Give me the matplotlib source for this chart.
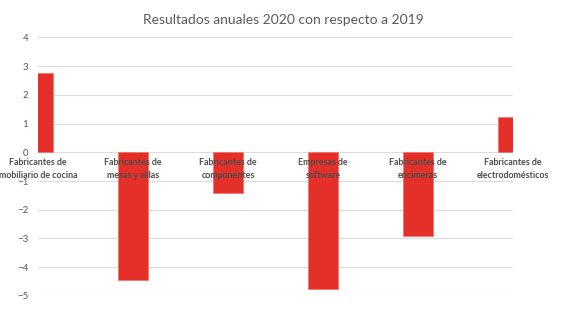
import numpy as np
import matplotlib.pyplot as plt

categorias = ["Fabricantes de\nmobiliario de cocina",
              "Fabricantes de\nmesas y sillas",
              "Fabricantes de\ncomponentes",
              "Empresas de\nsoftware",
              "Fabricantes de\nencimeras",
              "Fabricantes de\nelectrodomésticos"]
valores = [2.75, -4.45, -1.40, -4.77, -2.92, 1.24]
yticks = [-5, -4, -3, -2, -1, 0, 1, 2, 3, 4]

plt.rcParams['font.family'] = ['Lato', 'DejaVu Sans']

fig = plt.figure(figsize=(5.67, 3.34), dpi=100)
ax = fig.add_axes([0.067, 0.114, 0.838, 0.774])

x = np.arange(len(categorias))
ax.bar(x, valores, width=0.31, color='#E5302A', edgecolor='#F0756F',
       linewidth=0.6, zorder=2)

ax.set_xlim(0, len(categorias) - 1)
ax.set_ylim(-5, 4)
ax.set_yticks(yticks)
ax.set_xticks([])
ax.yaxis.grid(True, color='#DCDCDC', linewidth=0.8, zorder=0)
ax.tick_params(axis='y', length=0, pad=7, labelsize=7, labelcolor='#595959')
for s in ax.spines.values():
    s.set_visible(False)

# etiquetas de categoria pegadas al eje 0, por encima de las barras
for xi, lab in zip(x, categorias):
    ax.text(xi, -0.2, lab, ha='center', va='top', fontsize=6.4,
            fontweight='bold', color='#4D4D4D', linespacing=1.5,
            zorder=3, clip_on=False)

fig.text(0.5, 0.94, "Resultados anuales 2020 con respecto a 2019",
         ha='center', va='center', fontsize=10, color='#595959')

fig.savefig('out.png', dpi=100)
